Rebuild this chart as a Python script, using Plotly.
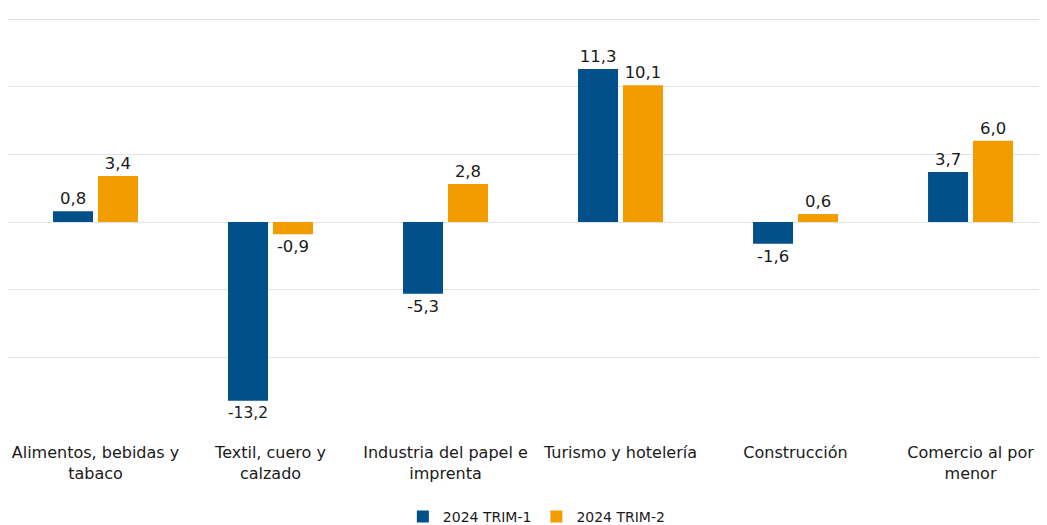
import plotly.graph_objects as go

categories = ["Alimentos, bebidas y<br>tabaco", "Textil, cuero y<br>calzado",
              "Industria del papel e<br>imprenta", "Turismo y hotelería",
              "Construcción", "Comercio al por<br>menor"]
trim1 = [0.8, -13.2, -5.3, 11.3, -1.6, 3.7]
trim2 = [3.4, -0.9, 2.8, 10.1, 0.6, 6.0]
series_names = ["2024 TRIM-1", "2024 TRIM-2"]
colors = ["#01508A", "#F39C00"]
grid_vals = [-10, -5, 0, 5, 10, 15]

def fmt(v):
    return f"{v:.1f}".replace(".", ",")

FONT = "DejaVu Sans"

fig = go.Figure()
for name, vals, col in zip(series_names, [trim1, trim2], colors):
    fig.add_trace(go.Bar(
        x=categories, y=vals, name=name, marker=dict(color=col, line=dict(width=0)),
        text=[fmt(v) for v in vals], textposition="outside",
        textfont=dict(size=16.5, color="#1a1a1a", family=FONT),
        cliponaxis=False,
    ))

fig.update_layout(
    width=1039, height=517,
    margin=dict(l=0, r=0, t=0, b=100, autoexpand=False),
    paper_bgcolor="white", plot_bgcolor="white",
    barmode="group", bargap=0.486, bargroupgap=0.111,
    font=dict(family=FONT, size=15, color="#1a1a1a"),
    showlegend=True,
    legend=dict(orientation="h", x=0.509, xanchor="center", y=-0.2206, yanchor="middle",
                font=dict(size=14, color="#1a1a1a"), traceorder="normal"),
    xaxis=dict(range=[-0.5, 5.437], showgrid=False, zeroline=False, showline=False,
               ticks="", automargin=False, ticklabelstandoff=16,
               tickfont=dict(size=16, color="#1a1a1a")),
    yaxis=dict(range=[-15, 15.813], tickvals=grid_vals, showticklabels=False, automargin=False,
               showgrid=True, gridcolor="#E3E3E3", gridwidth=1,
               zeroline=True, zerolinecolor="#E3E3E3", zerolinewidth=1, showline=False),
)

fig.write_html("out.html")
